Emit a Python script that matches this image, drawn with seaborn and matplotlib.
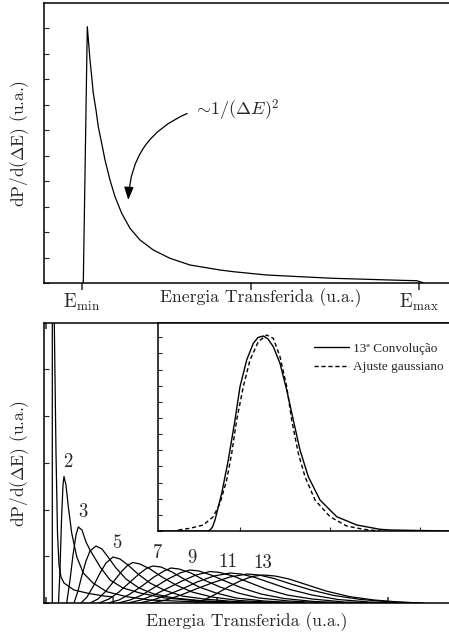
import pandas as pd
import matplotlib
matplotlib.use("Agg")
from matplotlib import pyplot as plt
from matplotlib.ticker import MultipleLocator
import seaborn as sns

# ---- painel superior: espectro de uma colisao (u.a.) ----
single_E = [39.3, 43.3, 46, 47.7, 49.3, 52, 54.3, 57.7, 61, 66, 71, 77.7, 86, 96, 109.3, 126, 146,
            176, 189.3, 222.7, 256, 289.3, 322.7, 356, 372.7, 377.7, 379.3]
single_P = [0, 256.3, 223, 206.3, 189.7, 173, 156.3, 139.7, 123, 103, 86.3, 69.7, 54.7, 43, 33, 24.7, 18,
            13, 11.3, 8, 6.3, 4.7, 3.7, 2.7, 2.3, 0.7, 0]
tick_E = [38, 206.5, 375]
tick_names = [r'$\mathrm{E}_{\mathrm{min}}$', '', r'$\mathrm{E}_{\mathrm{max}}$']

# ---- painel inferior: convolucoes sucessivas ----
conv1_E = [8.3, 8.3, 9, 10.3, 12, 13.5, 15, 17, 20, 30, 45, 60, 69, 69.3]
conv1_P = [0, 340, 340, 280, 150, 70, 38, 26, 20, 13, 9.5, 7, 6, 0]
conv2_E = [14.5, 16, 17.5, 19, 20, 22, 24.3, 27.7, 32.7, 39.3, 49, 62.7, 82.7, 106, 156, 196]
conv2_P = [0, 33, 83, 118, 126.5, 118, 96.3, 70, 46.3, 30, 20, 11.3, 6.3, 3, 1, 0]
conv3_E = [22.7, 26, 29, 32, 34.3, 38, 42, 46, 56, 66, 79, 96, 121, 156, 206]
conv3_P = [0, 23, 48, 68, 76, 73, 61, 53, 36.3, 23, 15, 10, 5, 2, 0]
conv4_E = [30, 34, 38, 42, 46, 52, 58, 64, 72, 82, 95, 110, 130, 160, 210]
conv4_P = [0, 12, 28, 42, 52, 57, 54, 46, 35, 24, 15, 9, 5, 2, 0]
conv5_E = [37, 43, 50, 56, 62, 69, 76, 84, 94, 106, 120, 138, 160, 190, 230]
conv5_P = [0, 6, 18, 30, 40, 46, 44, 38, 29, 20, 13, 7, 4, 1.5, 0]
conv6_E = [46, 54, 62, 70, 78, 84, 89, 96, 106, 118, 132, 148, 168, 195, 230, 260]
conv6_P = [0, 4, 12, 22, 32, 38, 40.5, 39, 34, 26, 18, 11, 6, 2.5, 0.5, 0]
conv7_E = [55, 65, 75, 85, 95, 103, 109, 117, 128, 140, 155, 172, 192, 220, 260]
conv7_P = [0, 4, 11, 20, 29, 35, 37, 36, 31, 24, 16, 10, 5, 2, 0]
conv8_E = [64, 75, 86, 98, 110, 120, 127, 135, 147, 160, 176, 194, 215, 245, 285]
conv8_P = [0, 3, 9, 17, 26, 32, 35, 34, 30, 23, 16, 10, 5, 2, 0]
conv9_E = [74, 86, 98, 111, 124, 136, 146, 155, 167, 181, 198, 217, 240, 270, 310]
conv9_P = [0, 3, 8, 16, 24, 30, 33, 32, 28, 22, 15, 9, 4.5, 1.5, 0]
conv10_E = [84, 97, 110, 124, 138, 152, 166, 176, 189, 204, 222, 243, 268, 300, 340]
conv10_P = [0, 3, 8, 15, 22, 28, 31.5, 30.5, 27, 21, 14, 8, 4, 1, 0]
conv11_E = [95, 109, 123, 138, 153, 170, 186, 197, 211, 227, 246, 268, 294, 325, 360]
conv11_P = [0, 3, 8, 14, 21, 27, 30, 29, 25.5, 20, 13.5, 8, 3.5, 1, 0]
conv12_E = [107, 122, 137, 152, 168, 186, 203, 215, 230, 247, 267, 290, 317, 348, 380]
conv12_P = [0, 3, 8, 14, 20, 26, 29, 28, 24.5, 19, 13, 7.5, 3.5, 1, 0]
conv13_E = [150, 160, 172, 184, 196, 208, 219, 231, 245, 262, 282, 305, 330, 355, 375]
conv13_P = [0, 3, 9, 16, 22, 26.5, 28, 27, 24, 18.5, 12, 6.5, 3, 1, 0]
conv_names = ['2', '3', '5', '7', '9', '11', '13']
name_E = [24.3, 39.3, 73.3, 114, 147.7, 184, 219]
name_P = [141, 91, 60, 50, 45, 41, 40]

# ---- detalhe: 13a convolucao x ajuste gaussiano ----
conv13_zoom_E = [0, 50, 52, 54.5, 57, 63.7, 70.3, 77, 82, 88.7, 95.3, 100, 105.3, 110, 115.3, 122, 128.7,
                 135.3, 142, 150.3, 162, 178.7, 198.7, 222, 232, 291]
conv13_zoom_P = [0, 0, 1, 4, 11, 37.7, 71, 111, 144.3, 171, 187.7, 193.5, 195, 192, 184.3, 167.7, 141,
                 111, 81, 54.3, 31, 14.3, 6, 1.7, 1, 0]
gauss_E = [20.3, 32, 45.3, 55.3, 62, 68.7, 73.7, 78.7, 85.3, 92, 100.3, 108.7, 115.3, 122, 128.7,
           133.7, 140.3, 147, 157, 172, 188.7, 205.3, 222]
gauss_P = [1, 2.7, 6, 14.3, 27.7, 51, 77.7, 111, 144.3, 171, 189.3, 196, 192.7, 174.3, 144.3,
           111, 77.7, 54.3, 31, 14.3, 5, 1.7, 0]

conv_E = [conv1_E, conv2_E, conv3_E, conv4_E, conv5_E, conv6_E, conv7_E,
          conv8_E, conv9_E, conv10_E, conv11_E, conv12_E, conv13_E]
conv_P = [conv1_P, conv2_P, conv3_P, conv4_P, conv5_P, conv6_P, conv7_P,
          conv8_P, conv9_P, conv10_P, conv11_P, conv12_P, conv13_P]
frames = []
for n, (e, p) in enumerate(zip(conv_E, conv_P), start=1):
    frames.append(pd.DataFrame({'E': e, 'P': p, 'n': n}))
conv = pd.concat(frames, ignore_index=True)

sns.set_theme(style="ticks")
plt.rcParams['font.family'] = ['cmr10', 'DejaVu Serif']
plt.rcParams['mathtext.fontset'] = 'cm'
plt.rcParams['axes.unicode_minus'] = False
plt.rcParams['axes.formatter.use_mathtext'] = True
plt.rcParams['axes.linewidth'] = 1.1
plt.rcParams['axes.edgecolor'] = 'black'

fig = plt.figure(figsize=(4.49, 6.37), dpi=100)
fig.patch.set_facecolor('white')

# painel superior
ax1 = fig.add_axes([44 / 449, 354 / 637, 405 / 449, 280 / 637])
sns.lineplot(x=single_E, y=single_P, sort=False, estimator=None, color='black', lw=0.9, ax=ax1)
ax1.set_xlim(0, 405)
ax1.set_ylim(0, 280)
ax1.set_xticks(tick_E)
ax1.set_xticklabels(tick_names, fontsize=13.5)
ax1.set_xticks(tick_E[1:], minor=True)
ax1.tick_params(axis='x', which='major', direction='out', length=5, width=1.1, top=False, pad=1)
ax1.tick_params(axis='x', which='minor', direction='in', length=4, width=1.1, top=True, bottom=False)
ax1.yaxis.set_major_locator(MultipleLocator(25.5))
ax1.tick_params(axis='y', direction='in', length=3.5, width=0.8, labelleft=False)
ax1.set_xlabel('Energia Transferida (u.a.)', fontsize=12.7)
ax1.xaxis.set_label_coords(0.535, -0.02)
ax1.set_ylabel(r'dP/d($\Delta$E) (u.a.)', fontsize=12.5, labelpad=9)
ax1.spines['right'].set_visible(False)
ax1.annotate(r'$\sim\!1/(\Delta E)^2$', xy=(84.3, 83), xytext=(149, 168), fontsize=13,
             ha='left', va='baseline',
             arrowprops=dict(arrowstyle='-|>,head_length=0.6,head_width=0.22', relpos=(0, 0.45),
                             connectionstyle='arc3,rad=0.33', color='black', lw=0.9,
                             shrinkA=2, shrinkB=0))

# painel inferior
ax2 = fig.add_axes([44 / 449, 34 / 637, 405 / 449, 280 / 637])
sns.lineplot(data=conv, x='E', y='P', units='n', estimator=None, sort=False,
             color='black', lw=0.9, ax=ax2, legend=False)
ax2.set_xlim(0, 405)
ax2.set_ylim(0, 280)
ax2.set_xticks([2, 173, 344])
ax2.tick_params(axis='x', direction='in', length=4, width=1.1, top=True, labelbottom=False)
ax2.yaxis.set_major_locator(MultipleLocator(46.7))
ax2.tick_params(axis='y', direction='in', length=3.5, width=0.8, labelleft=False)
ax2.set_xlabel('Energia Transferida (u.a.)', fontsize=12.7, labelpad=7)
ax2.set_ylabel(r'dP/d($\Delta$E) (u.a.)', fontsize=12.5, labelpad=9)
ax2.spines['right'].set_visible(False)
for name, e, p in zip(conv_names, name_E, name_P):
    ax2.text(e, p, name, fontsize=13.5, ha='center', va='center')

# detalhe
ax3 = fig.add_axes([158 / 449, 106 / 637, 291 / 449, 208 / 637])
ax3.set_facecolor('white')
sns.lineplot(x=conv13_zoom_E, y=conv13_zoom_P, sort=False, estimator=None, color='black', lw=1.0,
             ax=ax3, label='13ª Convolução')
sns.lineplot(x=gauss_E, y=gauss_P, sort=False, estimator=None, color='black', lw=1.0,
             linestyle=(0, (3, 2)), ax=ax3, label='Ajuste gaussiano')
ax3.set_xlim(0, 291)
ax3.set_ylim(0, 208)
ax3.set_xticks([82, 172, 262])
ax3.tick_params(axis='x', direction='in', length=3, width=0.8, labelbottom=False)
ax3.yaxis.set_major_locator(MultipleLocator(16.15))
ax3.tick_params(axis='y', direction='in', length=3, width=0.8, labelleft=False)
ax3.set_xlabel('')
ax3.set_ylabel('')
ax3.spines['right'].set_visible(False)
leg = ax3.legend(loc='upper right', bbox_to_anchor=(1.0, 0.93), frameon=False,
                 prop={'family': 'Liberation Serif', 'size': 9.5},
                 handlelength=2.7, handletextpad=0.3, labelspacing=0.45, borderaxespad=0)

fig.savefig('out.png', dpi=100, facecolor='white')
